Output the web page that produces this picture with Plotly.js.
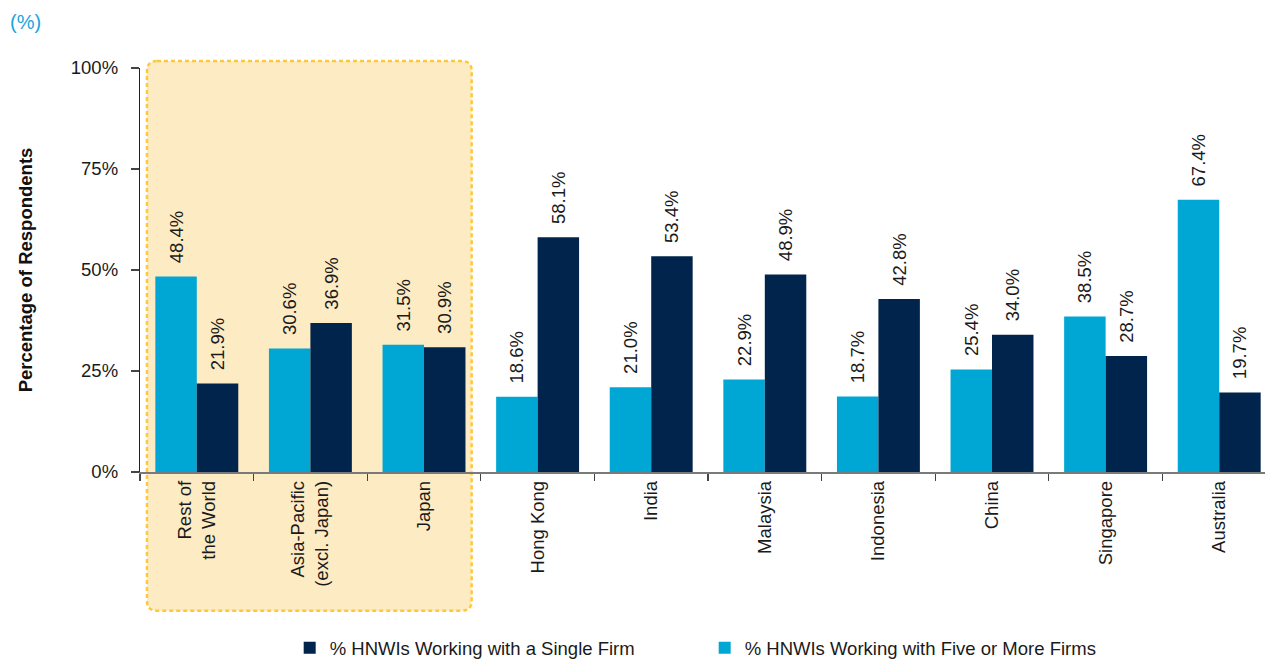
<!DOCTYPE html>
<html>
<head>
<meta charset="utf-8">
<script src="https://cdn.plot.ly/plotly-3.0.1.min.js"></script>
<style>
html,body{margin:0;padding:0;background:#fff;}
#chart{width:1265px;height:660px;}
</style>
</head>
<body>
<div id="chart"></div>
<script>
const categories = ["Rest of<br>the World", "Asia-Pacific<br>(excl. Japan)", "Japan", "Hong Kong", "India", "Malaysia", "Indonesia", "China", "Singapore", "Australia"];
const fiveOrMoreFirms = [48.4, 30.6, 31.5, 18.6, 21.0, 22.9, 18.7, 25.4, 38.5, 67.4];
const singleFirm = [21.9, 36.9, 30.9, 58.1, 53.4, 48.9, 42.8, 34.0, 28.7, 19.7];
const yTickValues = [0, 25, 50, 75, 100];
const yTickLabels = ["0%", "25%", "50%", "75%", "100%"];
const seriesNames = ["% HNWIs Working with Five or More Firms", "% HNWIs Working with a Single Firm"];
const seriesColors = ["#00A6D4", "#00244B"];

const FONT = "Liberation Sans, Arial, Helvetica, sans-serif";
const labelTemplate = "\u00A0\u00A0%{y:.1f}%";

const traces = [
  {
    type: "bar", name: seriesNames[0], x: categories, y: fiveOrMoreFirms,
    marker: {color: seriesColors[0]},
    texttemplate: labelTemplate, textposition: "outside", textangle: -90,
    textfont: {family: FONT, size: 18.5, color: "#1a1a1a"},
    constraintext: "none", cliponaxis: false, hoverinfo: "x+y"
  },
  {
    type: "bar", name: seriesNames[1], x: categories, y: singleFirm,
    marker: {color: seriesColors[1]},
    texttemplate: labelTemplate, textposition: "outside", textangle: -90,
    textfont: {family: FONT, size: 18.5, color: "#1a1a1a"},
    constraintext: "none", cliponaxis: false, hoverinfo: "x+y"
  }
];

const layout = {
  width: 1265, height: 660,
  margin: {l: 140, r: 0, t: 68, b: 188, autoexpand: false},
  paper_bgcolor: "#ffffff",
  plot_bgcolor: "rgba(0,0,0,0)",
  font: {family: FONT, size: 18.5, color: "#1a1a1a"},
  barmode: "group", bargap: 0.27, bargroupgap: 0,
  showlegend: true,
  legend: {
    orientation: "h", traceorder: "reversed",
    xref: "container", yref: "container",
    x: 0.229, xanchor: "left", y: 0.018, yanchor: "middle",
    entrywidth: 370, entrywidthmode: "pixels",
    font: {family: FONT, size: 18.5, color: "#1a1a1a"},
    bgcolor: "rgba(0,0,0,0)"
  },
  xaxis: {
    type: "category", range: [-0.5, 9.403], fixedrange: true,
    showline: true, linecolor: "#7a7a7a", linewidth: 1.5,
    ticks: "outside", tickson: "boundaries", ticklen: 7, tickcolor: "#444", tickwidth: 1.2,
    tickangle: -90, tickfont: {family: FONT, size: 18.5, color: "#1a1a1a"},
    showgrid: false, zeroline: false
  },
  yaxis: {
    range: [0, 100], fixedrange: true,
    tickmode: "array", tickvals: yTickValues, ticktext: yTickLabels,
    showline: true, linecolor: "#222", linewidth: 1.2,
    ticks: "outside", ticklen: 8, tickcolor: "#444", tickwidth: 1.2,
    ticklabelstandoff: 9,
    tickfont: {family: FONT, size: 18.5, color: "#1a1a1a"},
    showgrid: false, zeroline: false,
    title: {text: "<b>Percentage of Respondents</b>", standoff: 33, font: {family: FONT, size: 18.5, color: "#111"}}
  },
  shapes: [
    {
      type: "path", xref: "paper", yref: "paper", layer: "below",
      path: "M 0.0151,1.0173 L 0.2859,1.0173 Q 0.2948,1.0173 0.2948,0.9926 L 0.2948,-0.3185 Q 0.2948,-0.3433 0.2859,-0.3433 L 0.0151,-0.3433 Q 0.0062,-0.3433 0.0062,-0.3185 L 0.0062,0.9926 Q 0.0062,1.0173 0.0151,1.0173 Z",
      fillcolor: "#FDEBC4",
      line: {color: "#FFC83A", width: 2.5, dash: "4px,3px"}
    }
  ],
  annotations: [
    {
      text: "(%)", xref: "paper", yref: "paper", x: -0.1174, y: 1.1139,
      xanchor: "left", yanchor: "middle", showarrow: false,
      font: {family: FONT, size: 20, color: "#1BA5DC"}
    }
  ]
};

Plotly.newPlot("chart", traces, layout, {displayModeBar: false, staticPlot: true});
</script>
</body>
</html>
